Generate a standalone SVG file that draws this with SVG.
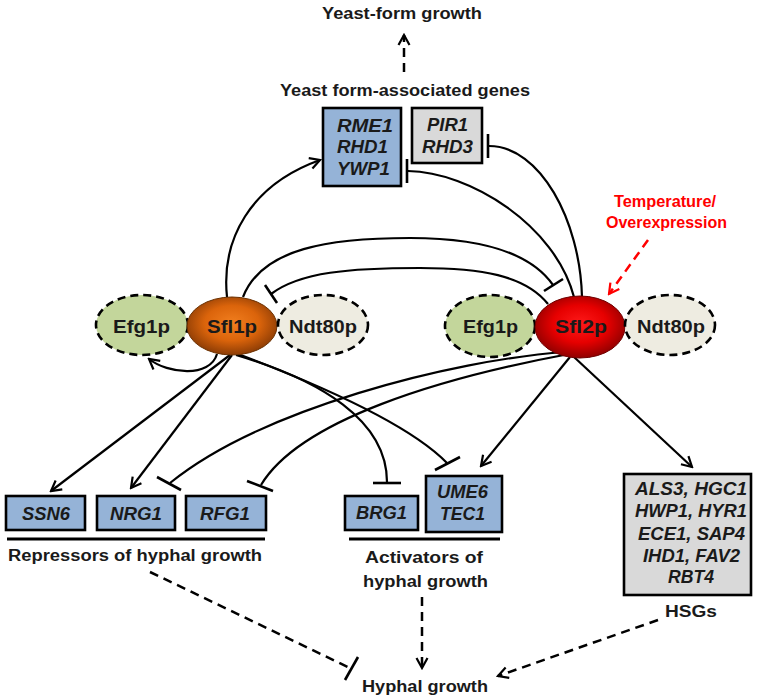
<svg xmlns="http://www.w3.org/2000/svg" width="767" height="699" viewBox="0 0 767 699">
<style>
.t{font-family:"Liberation Sans",Arial,sans-serif;font-weight:bold;fill:#1a1a1a}
.g{font-style:italic;font-size:18px}
.h{font-size:16px}
.n{font-size:18px}
.r{fill:#ff0000;font-size:16px}
.c{fill:none;stroke:#000;stroke-width:2.2}
.d{stroke-dasharray:9 6;stroke-width:2.5}
.bar{stroke:#000;stroke-width:2.6;fill:none}
.bb{fill:#95b3d7;stroke:#000;stroke-width:2.6}
.bg{fill:#d9d9d9;stroke:#000;stroke-width:2.6}
.ul{stroke:#000;stroke-width:3}
.dash{stroke:#000;stroke-width:2.6;stroke-dasharray:8 5}
</style>
<defs>
<marker id="ah" markerUnits="userSpaceOnUse" markerWidth="14" markerHeight="14" viewBox="0 0 14 14" refX="12" refY="7" orient="auto"><path d="M2,1.5 L12,7 L2,12.5" fill="none" stroke="#000" stroke-width="2.2"/></marker>
<marker id="ahr" markerUnits="userSpaceOnUse" markerWidth="14" markerHeight="14" viewBox="0 0 14 14" refX="12" refY="7" orient="auto"><path d="M2,1.5 L12,7 L2,12.5" fill="none" stroke="#ff0000" stroke-width="2.2"/></marker>
<radialGradient id="gOr" cx="50%" cy="45%" r="55%"><stop offset="0" stop-color="#f27f1f"/><stop offset="0.55" stop-color="#db640b"/><stop offset="1" stop-color="#8c3c05"/></radialGradient>
<radialGradient id="gRd" cx="50%" cy="45%" r="55%"><stop offset="0" stop-color="#ff1a1a"/><stop offset="0.55" stop-color="#e60000"/><stop offset="1" stop-color="#900000"/></radialGradient>
</defs>
<rect width="767" height="699" fill="#fff"/>

<g id="connectors">
<path class="c d" d="M404,72 L404,35" marker-end="url(#ah)"/>
<path class="c" d="M227,297 C221,240 250,185 320,160" marker-end="url(#ah)"/>
<path class="c" d="M574,297 C555,225 470,172 408,171"/>
<line class="bar" x1="407" y1="159" x2="407" y2="183"/>
<path class="c" d="M582,297 C580,220 540,146 489,146"/>
<line class="bar" x1="488" y1="134" x2="488" y2="158"/>
<path class="c" d="M243,297 C262,248 330,238 410,238 C480,238 530,252 553,285"/>
<line class="bar" x1="544" y1="291" x2="563" y2="279"/>
<path class="c" d="M548,304 C525,275 480,268 420,268 C350,268 300,272 271,294"/>
<line class="bar" x1="265" y1="285" x2="277" y2="303"/>
<path class="c" d="M217,354 C210,378 168,374 149,359" marker-end="url(#ah)"/>
<path class="c" d="M230,355 L51,491" marker-end="url(#ah)"/>
<path class="c" d="M232,355 L131,488" marker-end="url(#ah)"/>
<path class="c" d="M236,355 C320,380 387,420 387,482"/>
<line class="bar" x1="373" y1="483" x2="401" y2="483"/>
<path class="c" d="M238,354 C320,385 410,425 447,463"/>
<line class="bar" x1="435" y1="470" x2="460" y2="457"/>
<path class="c" d="M566,352 C450,360 260,410 170,483"/>
<line class="bar" x1="157" y1="477" x2="181" y2="490"/>
<path class="c" d="M569,354 C440,378 300,420 261,485"/>
<line class="bar" x1="247" y1="481" x2="273" y2="491"/>
<path class="c" d="M570,357 L481,466" marker-end="url(#ah)"/>
<path class="c" d="M574,357 L692,467" marker-end="url(#ah)"/>
<path class="c d" d="M648,240 L609,294" stroke="#ff0000" style="stroke:#ff0000" marker-end="url(#ahr)"/>
<path class="c d" d="M150,572 L350,668"/>
<line class="bar" x1="345" y1="680" x2="358" y2="657"/>
<path class="c d" d="M422,597 L422,668" marker-end="url(#ah)"/>
<path class="c d" d="M658,620 L498,676" marker-end="url(#ah)"/>
</g>

<g id="yeast-growth"><text class="t h" x="322" y="19" textLength="160" lengthAdjust="spacingAndGlyphs">Yeast-form growth</text></g>
<g id="yeast-genes-label"><text class="t h" x="280" y="96" textLength="250" lengthAdjust="spacingAndGlyphs">Yeast form-associated genes</text></g>

<g id="box-rme1">
<rect class="bb" x="323" y="108" width="78" height="78"/>
<text class="t g" x="337" y="132" textLength="56" lengthAdjust="spacingAndGlyphs">RME1</text>
<text class="t g" x="337" y="153" textLength="51" lengthAdjust="spacingAndGlyphs">RHD1</text>
<text class="t g" x="337" y="175" textLength="53" lengthAdjust="spacingAndGlyphs">YWP1</text>
</g>
<g id="box-pir1">
<rect class="bg" x="412" y="108" width="70" height="55"/>
<text class="t g" x="427" y="131" textLength="41" lengthAdjust="spacingAndGlyphs">PIR1</text>
<text class="t g" x="422" y="153" textLength="51" lengthAdjust="spacingAndGlyphs">RHD3</text>
</g>

<g id="temperature">
<text class="t r" x="614" y="207" textLength="102" lengthAdjust="spacingAndGlyphs">Temperature/</text>
<text class="t r" x="606" y="228" textLength="121" lengthAdjust="spacingAndGlyphs">Overexpression</text>
</g>

<g id="efg1p-left">
<ellipse cx="142" cy="325" rx="46" ry="30" fill="#c3d69b" class="dash"/>
<text class="t n" x="113" y="333" textLength="57" lengthAdjust="spacingAndGlyphs">Efg1p</text>
</g>
<g id="sfl1p">
<ellipse cx="232" cy="326" rx="45" ry="29" fill="url(#gOr)" stroke="#6b3000" stroke-width="1"/>
<text class="t n" x="207" y="333" textLength="50" lengthAdjust="spacingAndGlyphs">Sfl1p</text>
</g>
<g id="ndt80p-left">
<ellipse cx="323" cy="325" rx="45" ry="30" fill="#eeece1" class="dash"/>
<text class="t n" x="289" y="333" textLength="68" lengthAdjust="spacingAndGlyphs">Ndt80p</text>
</g>
<g id="efg1p-right">
<ellipse cx="490" cy="326" rx="45" ry="31" fill="#c3d69b" class="dash"/>
<text class="t n" x="463" y="333" textLength="55" lengthAdjust="spacingAndGlyphs">Efg1p</text>
</g>
<g id="sfl2p">
<ellipse cx="580" cy="327" rx="45" ry="31" fill="url(#gRd)" stroke="#700000" stroke-width="1"/>
<text class="t n" x="555" y="333" textLength="52" lengthAdjust="spacingAndGlyphs">Sfl2p</text>
</g>
<g id="ndt80p-right">
<ellipse cx="670" cy="325" rx="45" ry="30" fill="#eeece1" class="dash"/>
<text class="t n" x="637" y="333" textLength="68" lengthAdjust="spacingAndGlyphs">Ndt80p</text>
</g>

<g id="box-ssn6"><rect class="bb" x="6" y="496" width="79" height="34"/><text class="t g" x="22" y="520" textLength="48" lengthAdjust="spacingAndGlyphs">SSN6</text></g>
<g id="box-nrg1"><rect class="bb" x="97" y="496" width="78" height="34"/><text class="t g" x="110" y="520" textLength="52" lengthAdjust="spacingAndGlyphs">NRG1</text></g>
<g id="box-rfg1"><rect class="bb" x="186" y="496" width="80" height="34"/><text class="t g" x="200" y="520" textLength="50" lengthAdjust="spacingAndGlyphs">RFG1</text></g>
<g id="repressors">
<line class="ul" x1="7" y1="539" x2="265" y2="539"/>
<text class="t h" x="8" y="561" textLength="254" lengthAdjust="spacingAndGlyphs">Repressors of hyphal growth</text>
</g>

<g id="box-brg1"><rect class="bb" x="345" y="496" width="73" height="34"/><text class="t g" x="356" y="519" textLength="51" lengthAdjust="spacingAndGlyphs">BRG1</text></g>
<g id="box-ume6">
<rect class="bb" x="426" y="476" width="76" height="56"/>
<text class="t g" x="437" y="498" textLength="51" lengthAdjust="spacingAndGlyphs">UME6</text>
<text class="t g" x="440" y="520" textLength="45" lengthAdjust="spacingAndGlyphs">TEC1</text>
</g>
<g id="activators">
<line class="ul" x1="349" y1="539" x2="500" y2="539"/>
<text class="t h" x="365" y="563" textLength="118" lengthAdjust="spacingAndGlyphs">Activators of</text>
<text class="t h" x="363" y="587" textLength="125" lengthAdjust="spacingAndGlyphs">hyphal growth</text>
</g>

<g id="box-hsgs">
<rect class="bg" x="624" y="474" width="127" height="121"/>
<text class="t g" x="635" y="495" textLength="112" lengthAdjust="spacingAndGlyphs">ALS3, HGC1</text>
<text class="t g" x="635" y="517" textLength="112" lengthAdjust="spacingAndGlyphs">HWP1, HYR1</text>
<text class="t g" x="638" y="540" textLength="107" lengthAdjust="spacingAndGlyphs">ECE1, SAP4</text>
<text class="t g" x="643" y="562" textLength="97" lengthAdjust="spacingAndGlyphs">IHD1, FAV2</text>
<text class="t g" x="668" y="583" textLength="46" lengthAdjust="spacingAndGlyphs">RBT4</text>
<text class="t h" x="665" y="617" textLength="52" lengthAdjust="spacingAndGlyphs">HSGs</text>
</g>

<g id="hyphal-growth"><text class="t h" x="362" y="692" textLength="126" lengthAdjust="spacingAndGlyphs">Hyphal growth</text></g>
</svg>
